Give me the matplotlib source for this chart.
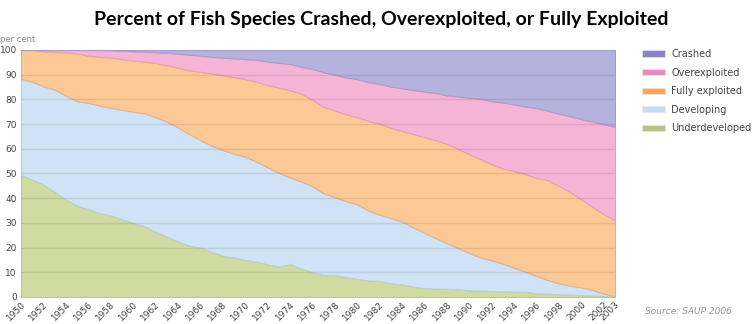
import numpy as np
from matplotlib import pyplot as plt
from matplotlib.patches import Patch

years = list(range(1950, 2004))
tick_years = list(range(1950, 2003, 2)) + [2003]

categories = ["Crashed", "Overexploited", "Fully exploited", "Developing", "Underdeveloped"]

# per-cent of species in each status, one value per year 1950..2003
underdeveloped = [49.4, 47.5, 45.5, 42.5, 39.5, 37.0, 35.5, 34.0, 33.0, 31.5,
                  30.0, 28.7, 26.5, 24.5, 22.5, 20.8, 20.0, 18.3, 16.7, 16.0,
                  15.0, 14.3, 13.2, 12.3, 13.3, 11.5, 10.0, 8.9, 8.9, 8.0,
                  7.3, 6.7, 6.5, 5.5, 5.1, 4.2, 3.6, 3.4, 3.3, 3.1,
                  2.7, 2.6, 2.4, 2.3, 2.2, 2.1, 1.5, 1.3, 1.1, 1.0,
                  0.8, 0.6, 0.4, 0.3]
developing = [38.9, 39.7, 39.8, 41.5, 42.0, 42.3, 43.1, 43.5, 43.6, 44.3,
              45.0, 45.7, 46.3, 46.5, 46.2, 45.2, 43.5, 43.0, 42.8, 42.0,
              41.8, 40.5, 39.3, 38.0, 35.1, 35.3, 34.8, 33.1, 31.5, 30.8,
              30.2, 28.3, 26.8, 26.5, 25.4, 24.0, 22.4, 20.4, 18.5, 16.7,
              15.1, 13.4, 12.4, 11.2, 9.6, 8.1, 7.0, 5.6, 4.4, 3.6,
              3.1, 2.2, 1.0, 0.0]
fully_exploited = [11.7, 12.8, 14.2, 15.2, 17.5, 19.3, 19.1, 19.8, 20.3, 20.5,
                   20.7, 20.9, 22.0, 22.8, 24.1, 25.8, 27.7, 29.2, 30.3, 31.0,
                   31.4, 32.4, 33.3, 34.5, 35.3, 35.5, 35.0, 35.0, 35.1, 35.2,
                   35.3, 36.3, 36.9, 36.5, 36.7, 37.8, 38.7, 39.7, 40.2, 40.2,
                   40.0, 39.8, 39.0, 38.5, 39.2, 39.6, 39.7, 40.4, 39.5, 37.9,
                   35.6, 33.7, 32.1, 30.9]
overexploited = [0.0, 0.0, 0.5, 0.8, 1.0, 1.4, 2.3, 2.7, 3.0, 3.4,
                 3.8, 4.0, 4.3, 5.1, 5.7, 6.3, 6.5, 6.8, 7.1, 7.6,
                 8.1, 8.8, 9.5, 10.0, 10.6, 10.9, 12.6, 14.0, 14.5, 14.9,
                 15.4, 15.7, 16.1, 16.7, 17.3, 17.8, 18.5, 19.1, 19.6, 21.2,
                 22.9, 24.5, 25.5, 26.7, 27.0, 27.3, 28.3, 28.1, 29.2, 30.7,
                 32.5, 34.5, 36.5, 37.7]
crashed = [0.0, 0.0, 0.0, 0.0, 0.0, 0.0, 0.0, 0.0, 0.1, 0.3,
           0.5, 0.7, 0.9, 1.1, 1.5, 1.9, 2.3, 2.7, 3.1, 3.4,
           3.7, 4.0, 4.7, 5.2, 5.7, 6.8, 7.6, 9.0, 10.0, 11.1,
           11.8, 13.0, 13.7, 14.8, 15.5, 16.2, 16.8, 17.4, 18.4, 18.8,
           19.3, 19.7, 20.7, 21.3, 22.0, 22.9, 23.5, 24.6, 25.8, 26.8,
           28.0, 29.0, 30.0, 31.1]

# fills bottom -> top
fill_colors = ["#d0dba2", "#d0e2f5", "#fcc896", "#f5b4d6", "#b5b3dd"]
edge_colors = ["#b9c98a", "#b8cde0", "#f3ad78", "#e79cc4", "#a29fd0"]
legend_colors = ["#8886c6", "#ee88bf", "#f7a761", "#c6dcf3", "#b2c680"]

fig = plt.figure(figsize=(7.53, 3.24), dpi=100)
ax = fig.add_axes([21/753, 1-297/324, (615-21)/753, (297-50)/324])

series = [underdeveloped, developing, fully_exploited, overexploited, crashed]
polys = ax.stackplot(years, *series, colors=fill_colors, alpha=1.0, zorder=1)
for p, ec in zip(polys, edge_colors):
    p.set_edgecolor(ec)
    p.set_linewidth(0.8)

# grid lines drawn over the fills, tinted by them
for yv in range(10, 100, 10):
    ax.axhline(yv, color="#000000", alpha=0.09, lw=1.0, zorder=2)

ax.set_xlim(1950, 2003)
ax.set_ylim(0, 100)
ax.set_yticks(range(0, 101, 10))
ax.set_xticks(tick_years)
ax.set_xticklabels([str(y) for y in tick_years], rotation=45, ha="right",
                   rotation_mode="anchor", fontsize=6.5, color="#444444")
ax.tick_params(axis="y", labelsize=6.5, labelcolor="#444444", length=0, pad=3)
ax.tick_params(axis="x", length=0, pad=2)
for s in ax.spines.values():
    s.set_visible(False)

fig.text(0.0, 1-40/324, "per cent", fontsize=6, color="#888888", va="center")

fig.text(381/753, 1-20/324, "Percent of Fish Species Crashed, Overexploited, or Fully Exploited",
         fontsize=14, fontweight="bold", ha="center", va="center", family="Lato")

handles = [Patch(facecolor=c, edgecolor="#e6e6e6", lw=0.5) for c in legend_colors]
fig.legend(handles, categories, loc="upper left", bbox_to_anchor=(640/753, 1-47/324),
           frameon=False, fontsize=7, handlelength=2.4, handleheight=0.6,
           labelspacing=0.88, handletextpad=0.6, labelcolor="#444444",
           borderaxespad=0, borderpad=0.2)

fig.text(645/753, 1-311/324, "Source: SAUP 2006", fontsize=6.5, style="italic",
         color="#999999", va="center")

fig.savefig("out.png", dpi=100)
